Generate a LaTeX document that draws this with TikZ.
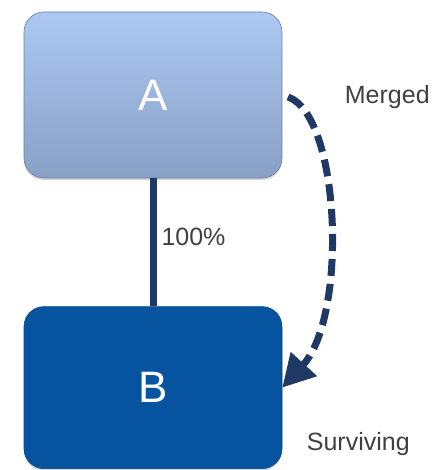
\documentclass[tikz,border=0pt]{standalone}
\usepackage{fontspec}
\setmainfont{Liberation Sans}
\usetikzlibrary{arrows.meta,positioning,shadows}
\definecolor{navy}{RGB}{31,56,100}
\definecolor{atop}{RGB}{172,200,242}
\definecolor{abot}{RGB}{136,160,198}
\definecolor{bfill}{RGB}{6,84,160}
\definecolor{labgray}{RGB}{64,64,64}
\tikzset{boxstyle/.style = {rectangle, rounded corners = 20pt, minimum width = 258pt, text = white, font = \fontsize{44}{48}\selectfont, drop shadow = {shadow xshift = 0pt, shadow yshift = -2pt, opacity = 0.35}},
	lab/.style = {text = labgray, font = \fontsize{25}{28}\selectfont, inner sep = 0pt},
	merge/.style = {-{Triangle[length = 32pt, width = 34pt]}, navy, line width = 7pt, dash pattern = on 17pt off 8pt}}

\begin{document}
\begin{tikzpicture}[x = 1pt, y = -1pt]
 \useasboundingbox (0,0) rectangle (439,470);

 \node (A) at (153,95) [boxstyle, minimum height = 166pt, top color = atop, bottom color = abot, draw = abot!80!black, line width = 0.6pt] {A};
 \node (B) [boxstyle, below = 128pt of A, minimum height = 162pt, fill = bfill, draw = bfill!85!black, line width = 0.6pt] {B};

 \draw [navy, line width = 7pt] (A.south) -- node[right = 5pt, yshift = 5pt, lab] (pct) {100\%} (B.north);

 \draw [merge, shorten <= 6pt] (A.east) .. controls +(58,20) and +(66,-72) .. (B.east);

 \node (merged) [lab] at ([xshift = 105pt, yshift = -2pt]A.east) {Merged};
 \node (surviving) [lab] at ([xshift = 76pt, yshift = 25pt]B.south east) {Surviving};

\end{tikzpicture}
\end{document}
